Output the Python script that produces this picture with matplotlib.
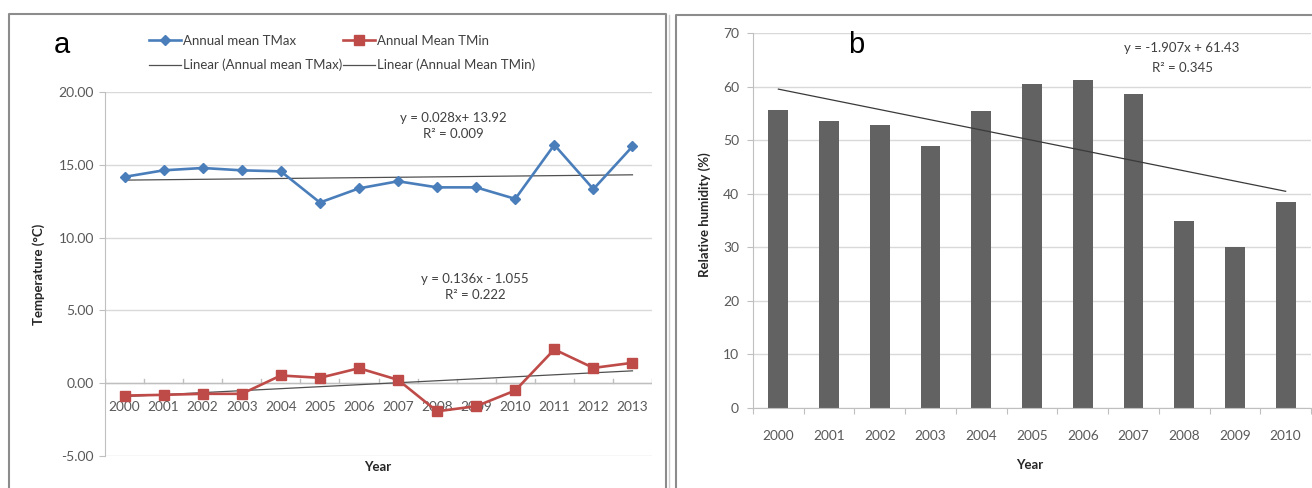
import matplotlib
matplotlib.use("Agg")
import matplotlib.pyplot as plt
from matplotlib.lines import Line2D
import numpy as np

plt.rcParams['font.family'] = ['Lato', 'DejaVu Sans']

# panel a data
years_a = ["2000", "2001", "2002", "2003", "2004", "2005", "2006",
           "2007", "2008", "2009", "2010", "2011", "2012", "2013"]
tmax = [14.17, 14.62, 14.78, 14.62, 14.55, 12.41, 13.38,
        13.87, 13.45, 13.45, 12.66, 16.37, 13.33, 16.26]
tmin = [-0.85, -0.80, -0.73, -0.73, 0.53, 0.37, 1.03,
        0.23, -1.93, -1.58, -0.50, 2.32, 1.05, 1.40]
tmax_fit = (0.028, 13.92)
tmin_fit = (0.136, -1.055)
yticks_a = [-5, 0, 5, 10, 15, 20]

# panel b data
years_b = ["2000", "2001", "2002", "2003", "2004", "2005",
           "2006", "2007", "2008", "2009", "2010"]
rh = [55.7, 53.5, 52.9, 49.0, 55.4, 60.5, 61.2, 58.7, 34.9, 30.0, 38.4]
rh_fit = (-1.907, 61.43)
yticks_b = [0, 10, 20, 30, 40, 50, 60, 70]

W, H = 1312, 488
fig = plt.figure(figsize=(W / 100, H / 100), dpi=100)


def px_axes(l, t, r, b):
    return fig.add_axes([l / W, 1 - b / H, (r - l) / W, (b - t) / H])


def ftext(x, y, s, **kw):
    fig.text(x / W, 1 - y / H, s, ha="center", va="center", **kw)


grid_c = "#d9d9d9"
tick_c = "#595959"
eq_c = "#404040"
blue = "#4a7ebb"
red = "#be4b48"
trend_c = "#505050"

# ---- panel a ----
ax = px_axes(105, 92, 652, 456)
xa = np.arange(len(years_a))
h1, = ax.plot(xa, tmax, color=blue, lw=1.9, marker="D", ms=5.5, zorder=3)
h2, = ax.plot(xa, tmin, color=red, lw=1.9, marker="s", ms=7, zorder=3)
h3, = ax.plot(xa, tmax_fit[0] * (xa + 1) + tmax_fit[1], color=trend_c, lw=0.9, zorder=2)
h4, = ax.plot(xa, tmin_fit[0] * (xa + 1) + tmin_fit[1], color=trend_c, lw=0.9, zorder=2)
ax.set_xlim(-0.5, len(years_a) - 0.5)
ax.set_ylim(-5, 20)
ax.set_yticks(yticks_a)
ax.set_yticklabels(["%.2f" % v for v in yticks_a])
ax.yaxis.grid(True, color=grid_c, lw=1)
ax.set_axisbelow(True)
for s in ["top", "right", "bottom"]:
    ax.spines[s].set_visible(False)
ax.spines["left"].set_color("#bfbfbf")
ax.axhline(0, color="#bfbfbf", lw=1, zorder=1)
ax.tick_params(axis="y", length=4, color="#bfbfbf", labelsize=10, labelcolor=tick_c, pad=4)
ax.set_xticks([])
for i, lab in enumerate(years_a):
    ax.text(i, -1.2, lab, ha="center", va="top", fontsize=9.8, color=tick_c, zorder=1)
for i in range(len(years_a) + 1):
    ax.plot([i - 0.5, i - 0.5], [0, 0.3], color="#bfbfbf", lw=1, zorder=1)

ftext(453, 118, "y = 0.028x+ 13.92", fontsize=9.5, color=eq_c)
ftext(453, 134, "R² = 0.009", fontsize=9.5, color=eq_c)
ftext(475, 279, "y = 0.136x - 1.055", fontsize=9.5, color=eq_c)
ftext(475, 295, "R² = 0.222", fontsize=9.5, color=eq_c)
ftext(39, 274, "Temperature (°C)", rotation=90, fontsize=9.5, fontweight="bold", color="#262626")
ftext(378, 467, "Year", fontsize=9.5, fontweight="bold", color="#262626")
ftext(62, 45, "a", fontsize=21, family="Liberation Sans")

fig.legend([h1, h3, h2, h4],
           ["Annual mean TMax", "Linear (Annual mean TMax)",
            "Annual Mean TMin", "Linear (Annual Mean TMin)"],
           ncol=2, frameon=False, loc="upper left",
           bbox_to_anchor=(137 / W, 1 - 23 / H),
           fontsize=9.5, handlelength=2.4, handletextpad=0.15,
           columnspacing=0.1, labelspacing=0.9, labelcolor=eq_c)

# ---- panel b ----
bx = px_axes(753, 33, 1311, 408)
xb = np.arange(len(years_b))
bx.bar(xb, rh, width=0.39, color="#626262", zorder=2)
bx.plot(xb, rh_fit[0] * (xb + 1) + rh_fit[1], color="#3a3a3a", lw=0.9, zorder=3)
bx.set_xlim(-0.5, len(years_b) - 0.5)
bx.set_ylim(0, 70)
bx.set_yticks(yticks_b)
bx.yaxis.grid(True, color=grid_c, lw=1)
bx.set_axisbelow(True)
for s in ["top", "right"]:
    bx.spines[s].set_visible(False)
bx.spines["left"].set_color("#bfbfbf")
bx.spines["bottom"].set_color("#bfbfbf")
bx.set_xticks(np.arange(len(years_b) + 1) - 0.5, minor=False)
bx.set_xticklabels([])
bx.set_xticks(xb, minor=True)
bx.set_xticklabels(years_b, minor=True)
bx.tick_params(axis="x", which="major", length=4, color="#bfbfbf")
bx.tick_params(axis="x", which="minor", length=0, labelsize=9.8, labelcolor=tick_c, pad=16)
bx.tick_params(axis="y", length=4, color="#bfbfbf", labelsize=10, labelcolor=tick_c, pad=6)

ftext(1182, 48, "y = -1.907x + 61.43", fontsize=9.5, color=eq_c)
ftext(1182, 68, "R² = 0.345", fontsize=9.5, color=eq_c)
ftext(705, 215, "Relative humidity (%)", rotation=90, fontsize=9.5, fontweight="bold", color="#262626")
ftext(1030, 465, "Year", fontsize=9.5, fontweight="bold", color="#262626")
ftext(856, 45, "b", fontsize=21, family="Liberation Sans")


# panel borders
def fig_line(xs, ys, **kw):
    fig.add_artist(Line2D([x / W for x in xs], [1 - y / H for y in ys], **kw))


fig_line([9, 9, 666, 666], [H + 5, 14, 14, H + 5], color="#8c8c8c", lw=1.5)
fig_line([676, 676, W + 5], [H + 5, 15, 15], color="#8c8c8c", lw=1.5)
fig_line([669, 669], [H + 5, 15], color="#d0d0d0", lw=1)

fig.savefig("out.png", dpi=100)
